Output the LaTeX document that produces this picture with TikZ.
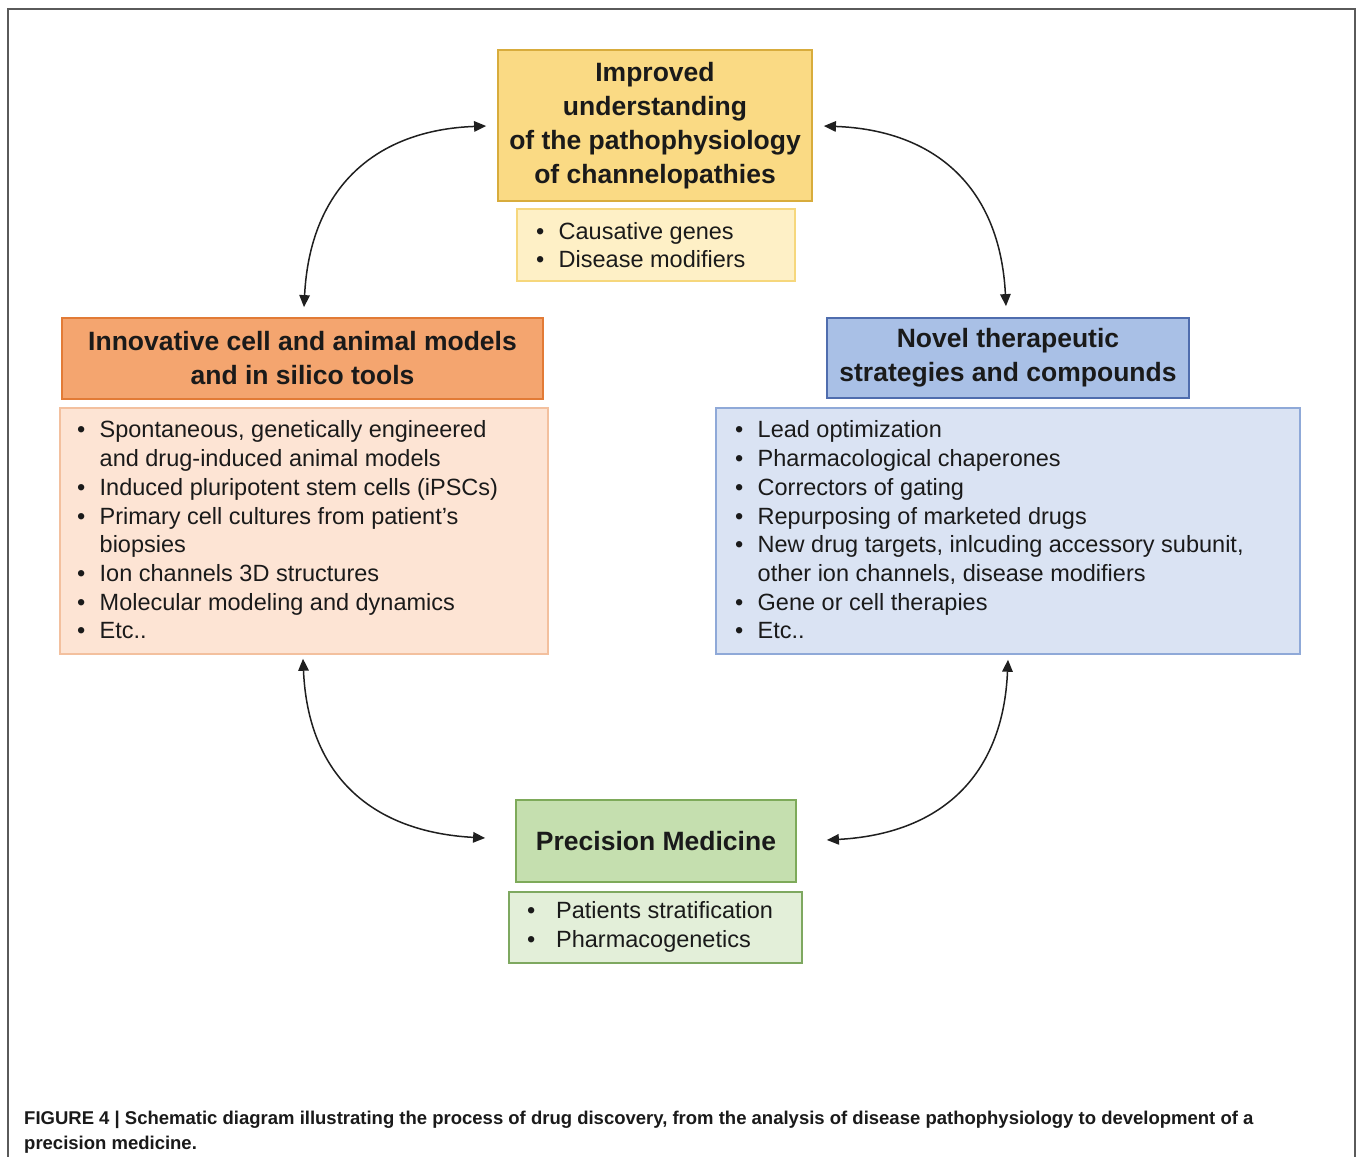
\documentclass[tikz,border=0pt]{standalone}
\usepackage{fontspec}
\setmainfont{Liberation Sans}
\usetikzlibrary{arrows.meta,calc}
\definecolor{yhfill}{HTML}{FADA84}
\definecolor{yhdraw}{HTML}{D8AC3C}
\definecolor{ylfill}{HTML}{FEF0C6}
\definecolor{yldraw}{HTML}{F6D77C}
\definecolor{ohfill}{HTML}{F4A56F}
\definecolor{ohdraw}{HTML}{E27B36}
\definecolor{olfill}{HTML}{FDE4D4}
\definecolor{oldraw}{HTML}{F3C09E}
\definecolor{bhfill}{HTML}{A9C0E6}
\definecolor{bhdraw}{HTML}{4F6DAE}
\definecolor{blfill}{HTML}{DAE3F3}
\definecolor{bldraw}{HTML}{8FA9D8}
\definecolor{ghfill}{HTML}{C5DFAF}
\definecolor{ghdraw}{HTML}{7EAA5A}
\definecolor{glfill}{HTML}{E3EFD9}
\definecolor{gldraw}{HTML}{7EA860}
\definecolor{txt}{HTML}{1A1A1A}
\definecolor{framecol}{HTML}{5A5A5A}
\newcommand\bul{\makebox[22.5pt][l]{\textbullet}}
\newcommand\ind{\hspace*{22.5pt}}
\begin{document}
\begin{tikzpicture}[x=1pt,y=-1pt,
  headbox/.style={draw, line width=1.8pt, inner sep=0pt, align=center, text=txt,
    font=\fontsize{26.5}{34}\selectfont\bfseries},
  listbox/.style={draw, line width=1.5pt, inner sep=0pt},
  listtext/.style={anchor=west, inner sep=0pt, align=left, text=txt,
    font=\fontsize{23.5}{28.7}\selectfont},
  conn/.style={draw=black!88, line width=1.5pt,
    {Triangle[length=12pt,width=10.5pt]}-{Triangle[length=12pt,width=10.5pt]}}]
\useasboundingbox (0,0) rectangle (1358,1157);
\fill[white] (0,0) rectangle (1358,1157);
\draw[framecol, line width=1.6pt] (8,1160) -- (8,9) -- (1355,9) -- (1355,1160);

% top
\node[headbox, fill=yhfill, draw=yhdraw, minimum width=314pt, minimum height=151pt]
  (th) at (655,125.5) {Improved\\understanding\\of the pathophysiology\\of channelopathies};
\node[listbox, fill=ylfill, draw=yldraw, minimum width=278pt, minimum height=72pt]
  (tl) at (656,245) {};
\node[listtext] (tlt) at (536,245) {\bul Causative genes\\\bul Disease modifiers};

% left
\node[headbox, fill=ohfill, draw=ohdraw, minimum width=481pt, minimum height=81pt]
  (lh) at (302.5,358.5) {Innovative cell and animal models\\and in silico tools};
\node[listbox, fill=olfill, draw=oldraw, minimum width=488pt, minimum height=246pt]
  (ll) at (304,531) {};
\node[listtext] (llt) at (77,530) {\bul Spontaneous, genetically engineered\\
  \ind and drug-induced animal models\\
  \bul Induced pluripotent stem cells (iPSCs)\\
  \bul Primary cell cultures from patient's\\
  \ind biopsies\\
  \bul Ion channels 3D structures\\
  \bul Molecular modeling and dynamics\\
  \bul Etc..};

% right
\node[headbox, fill=bhfill, draw=bhdraw, minimum width=362pt, minimum height=80pt]
  (rh) at (1008,358) {Novel therapeutic\\strategies and compounds};
\node[listbox, fill=blfill, draw=bldraw, minimum width=584pt, minimum height=246pt]
  (rl) at (1008,531) {};
\node[listtext] (rlt) at (735,530) {\bul Lead optimization\\
  \bul Pharmacological chaperones\\
  \bul Correctors of gating\\
  \bul Repurposing of marketed drugs\\
  \bul New drug targets, inlcuding accessory subunit,\\
  \ind other ion channels, disease modifiers\\
  \bul Gene or cell therapies\\
  \bul Etc..};

% bottom
\node[headbox, fill=ghfill, draw=ghdraw, minimum width=280pt, minimum height=82pt]
  (bh) at (656,841) {Precision Medicine};
\node[listbox, fill=glfill, draw=gldraw, minimum width=293pt, minimum height=71pt]
  (bl) at (655.5,927.5) {};
\node[listtext] (blt) at (527,927) {\makebox[29pt][l]{\textbullet}Patients stratification\\
  \makebox[29pt][l]{\textbullet}Pharmacogenetics};

% connectors
\draw[conn] ($(lh.north)+(1.5,-10)$) .. controls +(6,-120) and +(-110,4) .. ($(th.west)+(-11,0.5)$);
\draw[conn] ($(th.east)+(11,0.5)$) .. controls +(110,4) and +(-6,-120) .. ($(rh.north)+(-2,-11)$);
\draw[conn] ($(ll.south)+(-1,4)$) .. controls +(5,118) and +(-112,-6) .. ($(bh.west)+(-30,-3)$);
\draw[conn] ($(rl.south)+(0,5)$) .. controls +(-5,118) and +(112,-6) .. ($(bh.east)+(30,-1)$);

% caption
\node[anchor=west, inner sep=0pt, align=left, text=txt,
  font=\fontsize{18.5}{25}\selectfont\bfseries] (cap) at (24,1132)
  {FIGURE 4 | Schematic diagram illustrating the process of drug discovery, from the analysis of disease pathophysiology to development of a\\
   precision medicine.};
\end{tikzpicture}
\end{document}
